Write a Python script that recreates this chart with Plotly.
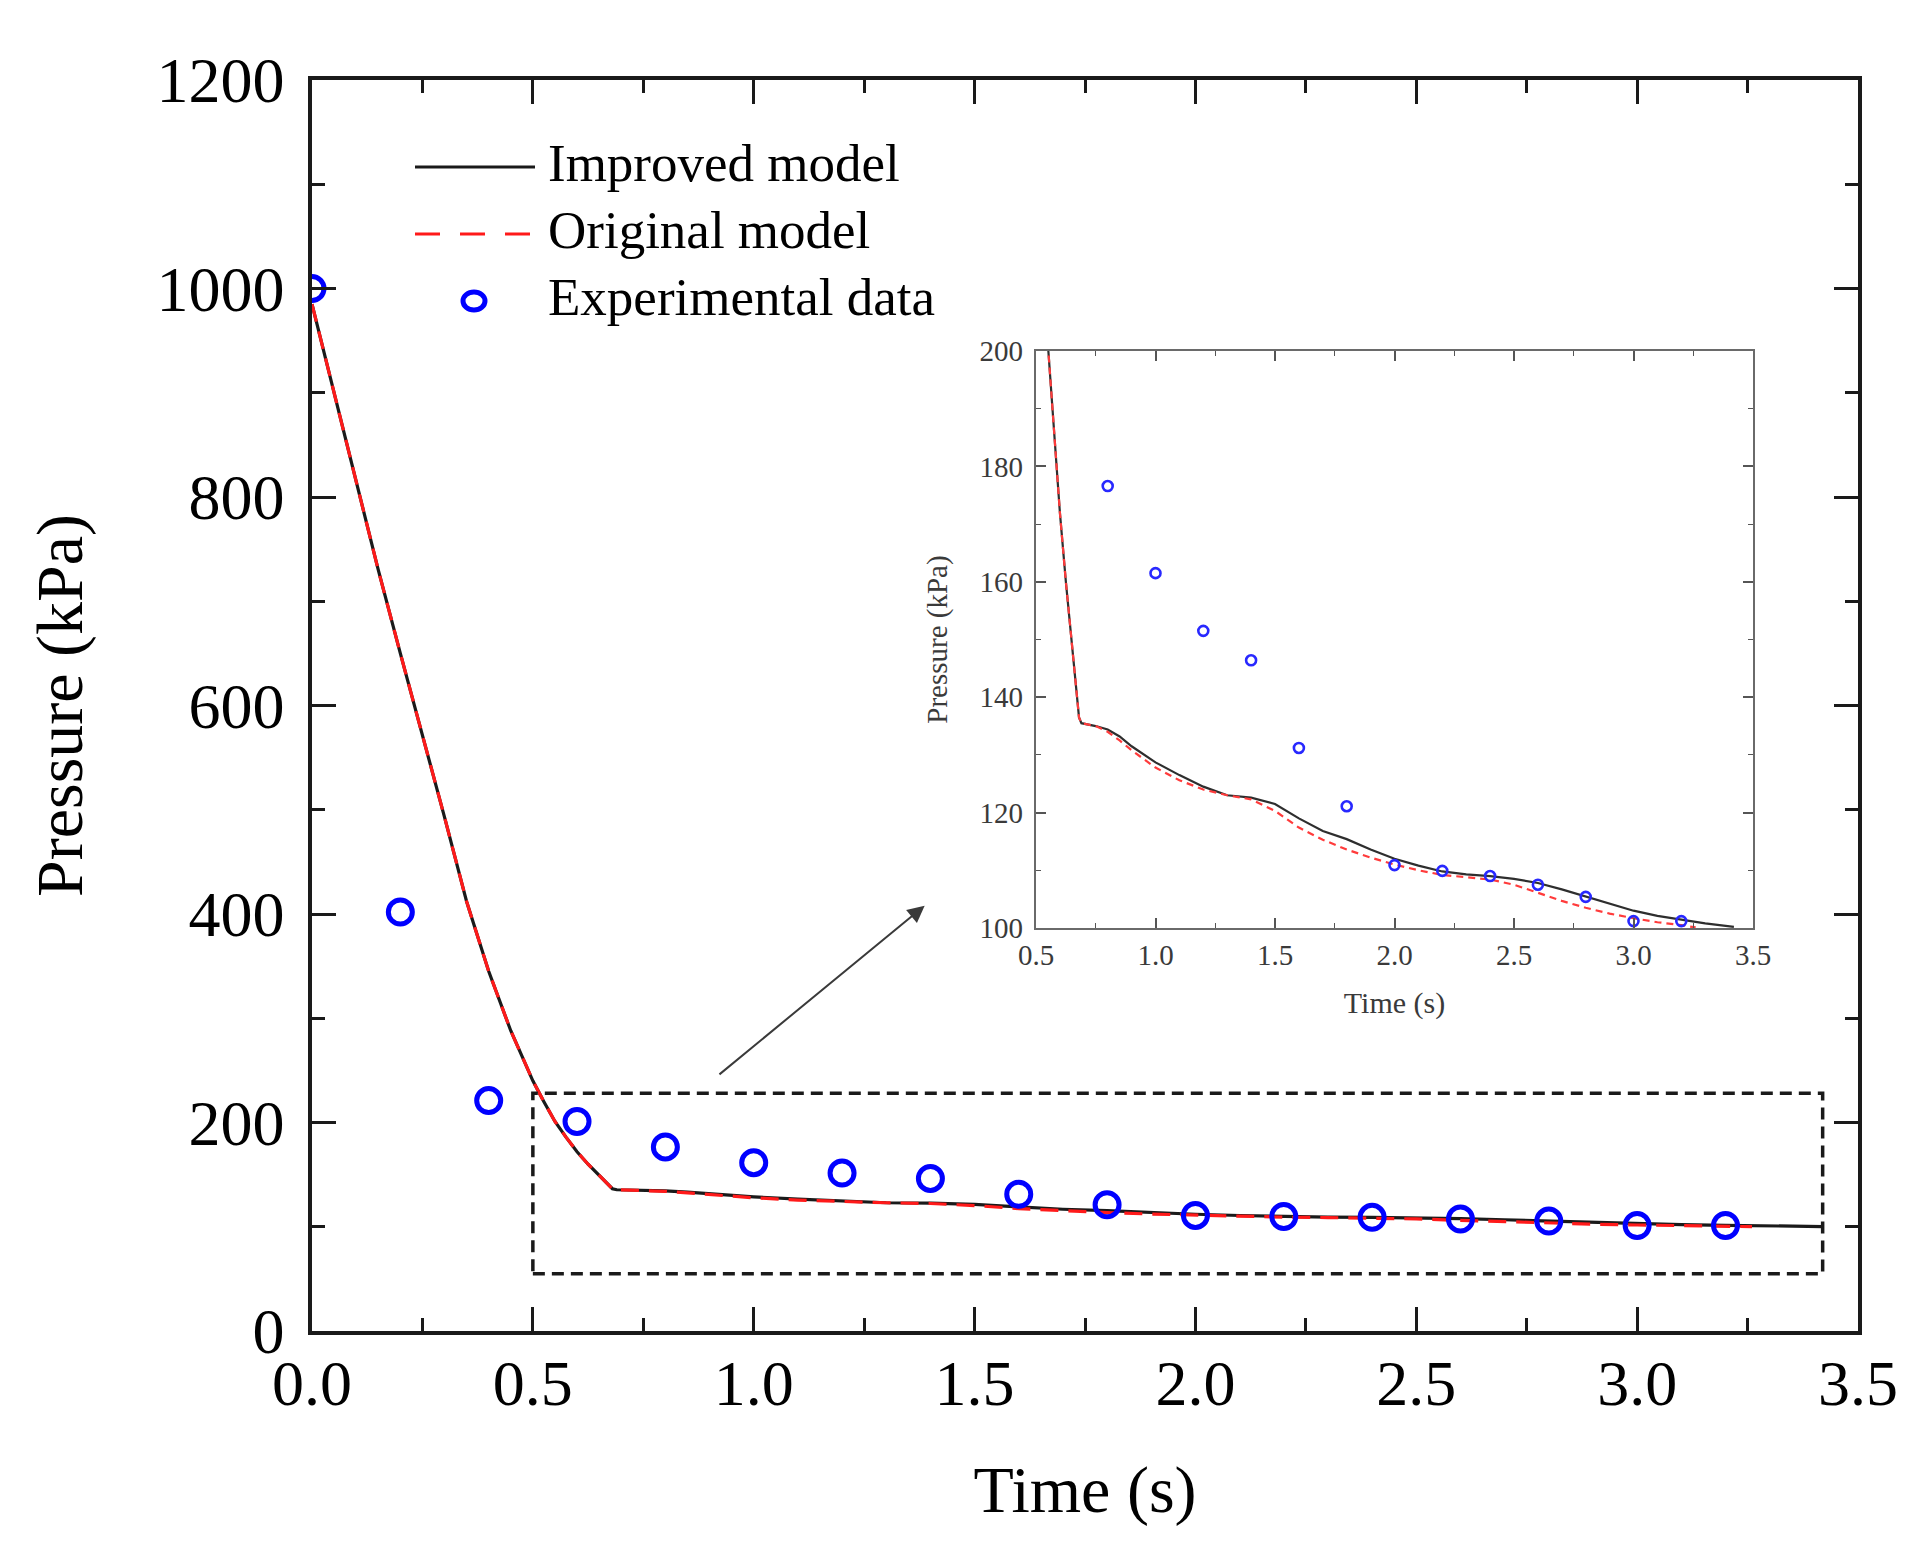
import plotly.graph_objects as go

# model curves
model_t = [0, 0.05, 0.1, 0.15, 0.2, 0.25, 0.3, 0.35, 0.4, 0.45, 0.5, 0.525, 0.55, 0.575, 0.6, 0.625, 0.65, 0.665, 0.68, 0.69,
           0.75, 0.8, 0.85, 0.9, 1.0, 1.1, 1.2, 1.3, 1.4, 1.5, 1.6, 1.7, 1.8, 1.9, 2.0,
           2.1, 2.2, 2.3, 2.4, 2.5, 2.6, 2.7, 2.8, 2.9, 3.0, 3.1, 3.2, 3.3, 3.42]
improved_p = [985, 900, 815, 730, 650, 572, 493, 412, 345, 288, 240, 220, 201, 186, 172, 160, 149, 142, 136.5, 135.5,
              135.0, 134.4, 133.2, 131.5, 128.7, 126.5, 124.5, 123.0, 122.6, 121.5, 119.0, 116.8, 115.4, 113.6, 112.0,
              110.8, 109.8, 109.3, 109.0, 108.5, 107.8, 106.7, 105.5, 104.2, 103.0, 102.1, 101.4, 100.8, 100.2]

original_t = [0, 0.05, 0.1, 0.15, 0.2, 0.25, 0.3, 0.35, 0.4, 0.45, 0.5, 0.525, 0.55, 0.575, 0.6, 0.625, 0.65, 0.665, 0.68, 0.69,
              0.75, 0.8, 0.85, 0.9, 1.0, 1.1, 1.2, 1.3, 1.4, 1.5, 1.6, 1.7, 1.8, 1.9, 2.0,
              2.1, 2.2, 2.3, 2.4, 2.5, 2.6, 2.7, 2.8, 2.9, 3.0, 3.1, 3.2, 3.26]
original_p = [985, 900, 815, 730, 650, 572, 493, 412, 345, 288, 240, 220, 201, 186, 172, 160, 149, 142, 136.5, 135.5,
              135.0, 134.0, 132.5, 130.8, 127.8, 125.6, 124.0, 123.0, 122.3, 120.3, 117.4, 115.3, 113.6, 112.2, 111.0,
              110.0, 109.2, 108.8, 108.4, 107.5, 106.1, 104.7, 103.5, 102.5, 101.7, 101.0, 100.5, 100.1]

# experimental data
exp_t = [0, 0.2, 0.4, 0.6, 0.8, 1.0, 1.2, 1.4, 1.6, 1.8, 2.0, 2.2, 2.4, 2.6, 2.8, 3.0, 3.2]
exp_p = [1000, 402, 221, 201, 176.6, 161.5, 151.5, 146.4, 131.2, 121.1, 110.9, 109.9, 109.0, 107.5, 105.4, 101.2, 101.2]

# zoom window shown in the inset
zoom_x = [0.5, 3.42]
zoom_y = [55, 228]

FONT = "Liberation Serif"
W, H = 1913, 1550
L, R, T, B = 304, 63, 72, 227
PW, PH = W - L - R, H - T - B


def px_x(p):
    return (p - L) / PW


def px_y(p):
    return (H - B - p) / PH


fig = go.Figure()

# main axes
fig.add_trace(go.Scatter(x=model_t, y=improved_p, mode="lines",
                         line=dict(color="#1a1a1a", width=3.2), showlegend=False))
fig.add_trace(go.Scatter(x=original_t, y=original_p, mode="lines",
                         line=dict(color="#ff1a1a", width=3.2, dash="18px,10px"), showlegend=False))
fig.add_trace(go.Scatter(x=exp_t, y=exp_p, mode="markers",
                         marker=dict(symbol="circle-open", size=24, color="#0000ff",
                                     line=dict(width=5, color="#0000ff")),
                         showlegend=False))

# inset axes
in_t = [t for t, p in zip(exp_t, exp_p) if p <= 200]
in_p = [p for p in exp_p if p <= 200]
fig.add_trace(go.Scatter(x=model_t, y=improved_p, mode="lines", xaxis="x2", yaxis="y2",
                         line=dict(color="#2e2e2e", width=2.2), showlegend=False))
fig.add_trace(go.Scatter(x=original_t, y=original_p, mode="lines", xaxis="x2", yaxis="y2",
                         line=dict(color="#ff3b3b", width=2.2, dash="7px,5px"), showlegend=False))
fig.add_trace(go.Scatter(x=in_t, y=in_p, mode="markers", xaxis="x2", yaxis="y2",
                         marker=dict(symbol="circle-open", size=10, color="#2828ff",
                                     line=dict(width=2.6, color="#2828ff")),
                         showlegend=False))

main_ax = dict(showgrid=False, zeroline=False, showline=True, linecolor="#1a1a1a", linewidth=3.5,
               mirror="ticks", ticks="inside", ticklen=24, tickwidth=3, tickcolor="#1a1a1a",
               tickfont=dict(family=FONT, size=64, color="black"))
inset_ax = dict(showgrid=False, zeroline=False, showline=True, linecolor="#6a6a6a", linewidth=2.2,
                mirror="ticks", ticks="inside", ticklen=10, tickwidth=1.6, tickcolor="#555555",
                tickfont=dict(family=FONT, size=29, color="#3a3a3a"))

ix0, ix1 = px_x(1028), px_x(1745)
iy0, iy1 = px_y(920), px_y(343)

fig.update_layout(
    width=W, height=H,
    margin=dict(l=L, r=R, t=T, b=B),
    paper_bgcolor="white", plot_bgcolor="white",
    font=dict(family=FONT, color="black"),
    xaxis=dict(main_ax, range=[0, 3.5], dtick=0.5, tickformat=".1f", domain=[0, 1],
               minor=dict(ticks="inside", ticklen=13, tickwidth=3, dtick=0.25, tickcolor="#1a1a1a"),
               ticklabelstandoff=-7,
               title=dict(text="Time (s)", font=dict(family=FONT, size=66), standoff=49)),
    yaxis=dict(main_ax, range=[0, 1200], dtick=200, domain=[0, 1],
               minor=dict(ticks="inside", ticklen=13, tickwidth=3, dtick=100, tickcolor="#1a1a1a"),
               ticklabelstandoff=11,
               title=dict(text="Pressure (kPa)", font=dict(family=FONT, size=66), standoff=53)),
    xaxis2=dict(inset_ax, range=[0.5, 3.5], dtick=0.5, tickformat=".1f", domain=[ix0, ix1], anchor="y2",
                minor=dict(ticks="inside", ticklen=5, tickwidth=1.4, dtick=0.25, tickcolor="#555555"),
                title=dict(text="Time (s)", font=dict(family=FONT, size=30, color="#3a3a3a"), standoff=22)),
    yaxis2=dict(inset_ax, range=[100, 200], dtick=20, domain=[iy0, iy1], anchor="x2",
                minor=dict(ticks="inside", ticklen=5, tickwidth=1.4, dtick=10, tickcolor="#555555"),
                ticklabelstandoff=5,
                title=dict(text="Pressure (kPa)", font=dict(family=FONT, size=29, color="#3a3a3a"), standoff=23)),
)

# dashed zoom rectangle
fig.add_shape(type="rect", xref="x", yref="y", x0=zoom_x[0], x1=zoom_x[1], y0=zoom_y[0], y1=zoom_y[1],
              line=dict(color="#1a1a1a", width=3.5, dash="12px,7px"))

# arrow from zoom box to inset
fig.add_annotation(x=1.387, y=408, ax=0.919, ay=245, xref="x", yref="y", axref="x", ayref="y",
                   text="", showarrow=True, arrowhead=2, arrowsize=1.7, arrowwidth=2, arrowcolor="#3a3a3a")

# hand-drawn legend (line length as in the original)
leg_rows = [159, 226, 293]
fig.add_shape(type="line", xref="paper", yref="paper", x0=px_x(407), x1=px_x(527),
              y0=px_y(leg_rows[0]), y1=px_y(leg_rows[0]), line=dict(color="#1a1a1a", width=3.2))
fig.add_shape(type="line", xref="paper", yref="paper", x0=px_x(407), x1=px_x(527),
              y0=px_y(leg_rows[1]), y1=px_y(leg_rows[1]), line=dict(color="#ff1a1a", width=3.2, dash="25px,20px"))
fig.add_shape(type="circle", xref="paper", yref="paper",
              x0=px_x(466 - 11), x1=px_x(466 + 11), y0=px_y(leg_rows[2] + 9), y1=px_y(leg_rows[2] - 9),
              line=dict(color="#0000ff", width=5))
for txt, row in zip(["Improved model", "Original model", "Experimental data"], leg_rows):
    fig.add_annotation(x=px_x(538), y=px_y(row - 4), xref="paper", yref="paper", text=txt,
                       showarrow=False, xanchor="left", yanchor="middle",
                       font=dict(family=FONT, size=53, color="black"))

fig.write_html("out.html")
